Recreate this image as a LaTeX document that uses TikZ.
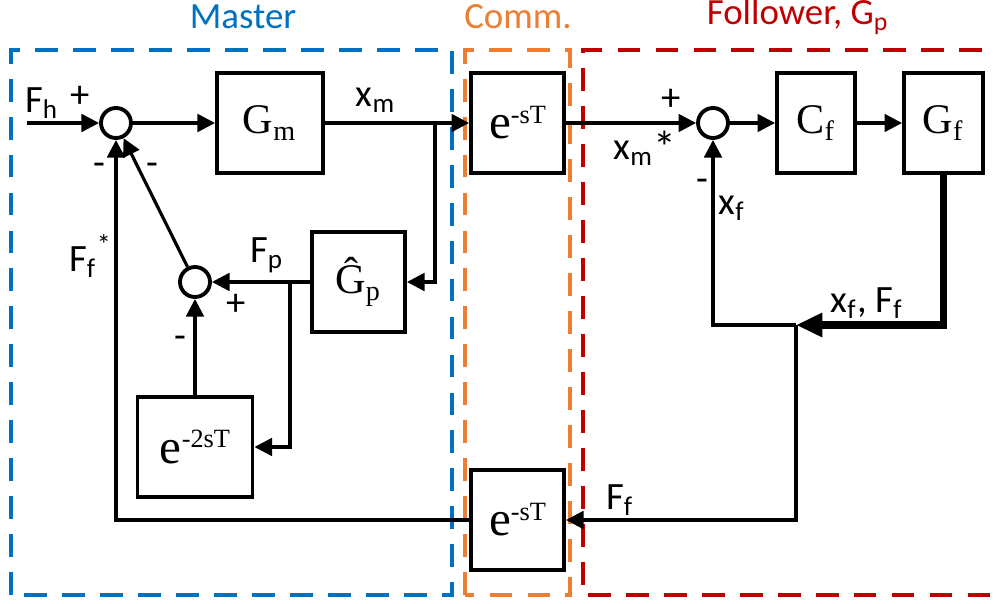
\documentclass[tikz,border=0pt]{standalone}
\usepackage{fontspec}
\setmainfont{Liberation Serif}
\newfontfamily\lblfont{Carlito}
\usepackage{tikz}
\usetikzlibrary{arrows.meta,positioning,calc}
\definecolor{masterblue}{RGB}{0,112,192}
\definecolor{commorange}{RGB}{237,125,49}
\definecolor{followred}{RGB}{192,0,0}
\newcommand{\dly}[1]{{\fontsize{14}{14}\selectfont e}\raisebox{4.3pt}{\fontsize{7.5}{8}\selectfont #1}}

\begin{document}
\begin{tikzpicture}[
    block/.style={draw, line width=1.1pt, minimum height=1cm, inner sep=0pt, font=\fontsize{12}{12}\selectfont},
    sumnode/.style={draw, circle, line width=1.1pt, minimum size=0.3cm, inner sep=0pt},
    sig/.style={line width=0.9pt, -{Triangle[length=5pt,width=5pt]}},
    bigsig/.style={line width=2pt, -{Triangle[length=7.5pt,width=6.5pt]}},
    lbl/.style={font=\lblfont\fontsize{11}{11}\selectfont, inner sep=0pt},
    title/.style={font=\lblfont\fontsize{10.5}{11}\selectfont, inner sep=0pt},
    region/.style={line width=0.9pt, dash pattern=on 6.5pt off 4.3pt}
]
    \useasboundingbox (0,0) rectangle (9.97,6.03);
    % Regions
    \draw[region, masterblue] (0.11,0.08) rectangle (4.52,5.53);
    \draw[region, commorange] (4.65,0.08) rectangle (5.70,5.53);
    \draw[region, followred] (10.2,5.53) -- (5.83,5.53) -- (5.83,0.08) -- (10.2,0.08);
    \node[title, masterblue] (tm) at (2.43,5.86) {Master};
    \node[title, commorange] (tc) at (5.18,5.86) {Comm.};
    \node[title, followred] (tf) at (7.98,5.86) {Follower, G\textsubscript{p}};
    % Master
    \node[sumnode] (s1) at (1.16,4.80) {};
    \node[block, minimum width=1.06cm] (Gm) at (2.70,4.80) {G\textsubscript{m}};
    \node[block, minimum width=0.93cm] (Gp) at (3.585,3.21) {\^{G}\textsubscript{p}};
    \node[sumnode] (s2) at (1.95,3.21) {};
    \node[block, minimum width=1.15cm] (D2) at (1.95,1.56) {\dly{-2sT}};
    % Comm.
    \node[block, minimum width=0.93cm] (Dt) at (5.175,4.80) {\dly{-sT}};
    \node[block, minimum width=0.93cm] (Db) at (5.175,0.83) {\dly{-sT}};
    % Follower
    \node[sumnode] (s3) at (7.13,4.80) {};
    \node[block, minimum width=0.78cm] (Cf) at (8.16,4.80) {C\textsubscript{f}};
    \node[block, minimum width=0.79cm] (Gf) at (9.435,4.80) {G\textsubscript{f}};
    % Junctions
    \coordinate (in) at (0.27,4.80);
    \coordinate (b1) at (4.35,4.80);
    \coordinate (b2) at (2.90,3.21);
    \coordinate (jn) at (7.96,2.78);
    % Signals
    \draw[sig] (in) -- (s1);
    \draw[sig] (s1) -- (Gm);
    \draw[sig] (Gm) -- (Dt);
    \draw[sig] (b1) |- (Gp.east);
    \draw[sig] (Gp) -- (s2);
    \draw[sig] (b2) |- (D2.east);
    \draw[sig] (D2) -- (s2);
    \draw[sig] (s2) -- (s1);
    \draw[sig] (Db.west) -| (s1);
    \draw[sig] (Dt) -- (s3);
    \draw[sig] (s3) -- (Cf);
    \draw[sig] (Cf) -- (Gf);
    \draw[bigsig] (Gf) |- (jn);
    \draw[sig] (jn) -| (s3);
    \draw[sig] (jn) |- (Db.east);
    % Labels
    \node[lbl] (lFh) at (0.42,5.00) {F\textsubscript{h}};
    \node[lbl] (p1) at (0.80,5.06) {+};
    \node[lbl] (m1) at (0.99,4.34) {-};
    \node[lbl] (m2) at (1.52,4.34) {-};
    \node[lbl] (lFfs) at (0.90,3.47) {F\textsubscript{f}\raisebox{5pt}{\fontsize{8}{8}\selectfont *}};
    \node[lbl] (lxm) at (3.76,5.03) {x\textsubscript{m}};
    \node[lbl] (lFp) at (2.67,3.48) {F\textsubscript{p}};
    \node[lbl] (p2) at (2.36,2.98) {+};
    \node[lbl] (m3) at (1.80,2.61) {-};
    \node[lbl] (p3) at (6.71,5.03) {+};
    \node[lbl] (lxms) at (6.45,4.55) {x\textsubscript{m}\raisebox{-1pt}{\fontsize{13}{13}\selectfont *}};
    \node[lbl] (m4) at (7.02,4.18) {-};
    \node[lbl] (lxf) at (7.32,3.95) {x\textsubscript{f}};
    \node[lbl] (lxfFf) at (8.67,3.00) {x\textsubscript{f}, F\textsubscript{f}};
    \node[lbl] (lFf) at (6.20,1.03) {F\textsubscript{f}};
\end{tikzpicture}
\end{document}
